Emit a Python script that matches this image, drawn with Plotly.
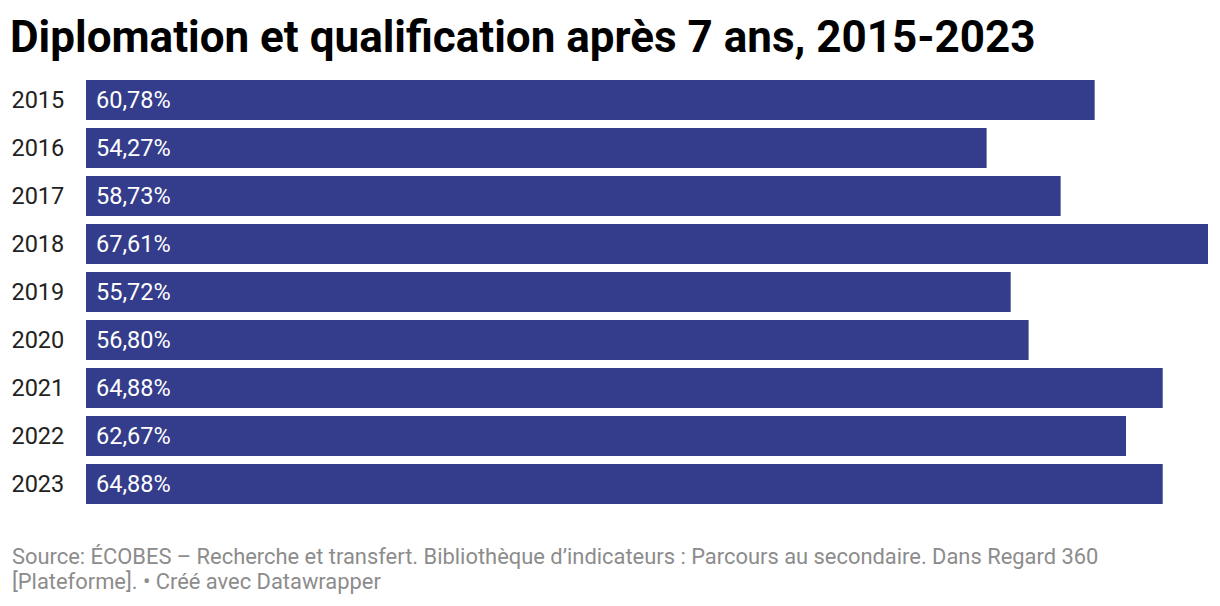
import plotly.graph_objects as go

years = ["2015", "2016", "2017", "2018", "2019", "2020", "2021", "2022", "2023"]
values = [60.78, 54.27, 58.73, 67.61, 55.72, 56.80, 64.88, 62.67, 64.88]
labels = [f"{v:.2f}".replace(".", ",") + "%" for v in values]

title = "Diplomation et qualification après 7 ans, 2015-2023"
footer_lines = [
    "Source: ÉCOBES – Recherche et transfert. Bibliothèque d’indicateurs : Parcours au secondaire. Dans Regard 360",
    "[Plateforme]. • Créé avec Datawrapper",
]

W, H = 1220, 606
OFF = 8  # page body margin offset
ml, mr, mt, mb = 86 - OFF, 20, 76 - OFF, 106
ph = H - mt - mb

fig = go.Figure()
fig.add_trace(go.Bar(
    x=values, y=years, orientation="h",
    marker=dict(color="#333d8b", line=dict(width=0)),
    hoverinfo="skip",
))

# category axis: annotation positions by category index
for i, lab in enumerate(labels):
    fig.add_annotation(x=0, y=i, xref="x", yref="y", text=lab, showarrow=False,
                       xanchor="left", xshift=8, font=dict(family="Roboto", size=23.5, color="white"))

for i, line in enumerate(footer_lines):
    cy = 556 + 25 * i - OFF
    fig.add_annotation(x=0, y=(H - mb - cy) / ph, xref="paper", yref="paper", text=line,
                       showarrow=False, xanchor="left", yanchor="middle", align="left", xshift=-76,
                       font=dict(family="Roboto", size=21.9, color="#8c8c8c"))

fig.update_layout(
    width=W, height=H,
    margin=dict(l=ml, r=mr, t=mt, b=mb, pad=0),
    paper_bgcolor="white", plot_bgcolor="white",
    bargap=8 / 48,
    showlegend=False,
    title=dict(text=f"<b>{title}</b>", x=2 / W, xanchor="left", xref="container",
               y=1 - 29 / H, yanchor="middle", yref="container", pad=dict(l=0, r=0, t=0, b=0),
               font=dict(family="Roboto", size=44, color="black")),
    xaxis=dict(range=[0, max(values)], visible=False, fixedrange=True, automargin=False),
    yaxis=dict(type="category", categoryorder="array", categoryarray=years,
               range=[len(years) - 0.5, -0.5], autorange=False,
               showgrid=False, zeroline=False, showline=False, automargin=False,
               ticks="outside", ticklen=16, tickcolor="rgba(0,0,0,0)", fixedrange=True,
               tickfont=dict(family="Roboto", size=23.5, color="#222")),
)

fig.write_html("out.html")
